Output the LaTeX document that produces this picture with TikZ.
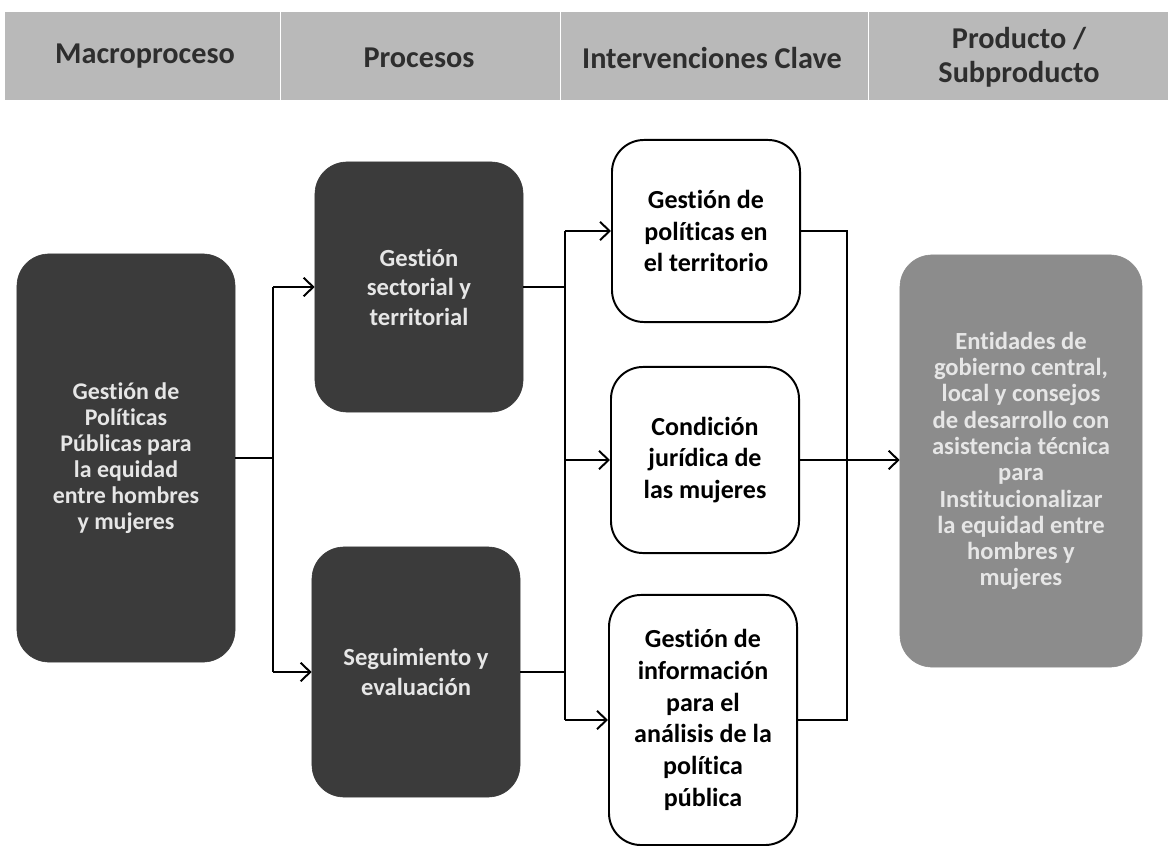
\documentclass[tikz,border=0pt]{standalone}
\usepackage{fontspec}
\setmainfont{Carlito}[Ligatures=NoCommon]
\usetikzlibrary{arrows.meta}

\definecolor{bandgray}{HTML}{B9B9B9}
\definecolor{headink}{HTML}{2E2E2E}
\definecolor{darkfill}{HTML}{3B3B3B}
\definecolor{prodfill}{HTML}{8C8C8C}
\definecolor{paleink}{HTML}{E6E6E6}

\tikzset{
  headtxt/.style={font=\fontsize{21.5}{24}\selectfont\bfseries, text=headink, align=center},
  darkbox/.style={draw=darkfill, fill=darkfill, rounded corners=0.8cm, text=paleink,
    font=\fontsize{17.5}{21}\selectfont\bfseries, align=center, inner sep=2pt},
  whitebox/.style={draw=black, line width=1.4pt, fill=white, rounded corners=0.8cm,
    font=\fontsize{18.5}{22.5}\selectfont\bfseries, align=center, inner sep=2pt},
  prodbox/.style={draw=prodfill, fill=prodfill, rounded corners=0.8cm, text=paleink,
    font=\fontsize{17.5}{18.7}\selectfont\bfseries, align=center, inner sep=2pt},
  link/.style={line width=1.6pt},
  flecha/.style={line width=1.6pt, -{Straight Barb[length=2.4mm,width=4.6mm,line width=1.4pt]}}
}

\begin{document}
\begin{tikzpicture}[x=0.025cm,y=-0.025cm]
\useasboundingbox (0,0) rectangle (1168,846);

% header band
\fill[bandgray] (5,12) rectangle (1168,100);
\draw[white,line width=0.6pt] (280,12) -- (280,100);
\draw[white,line width=0.6pt] (560,12) -- (560,100);
\draw[white,line width=0.6pt] (868,12) -- (868,100);
\node[headtxt] (hmacro) at (145,56) {Macroproceso};
\node[headtxt] (hproc) at (419,58) {Procesos};
\node[headtxt] (hinter) at (712,58) {Intervenciones Clave};
\node[headtxt] (hprod) at (1019,57) {Producto /\\Subproducto};

% boxes
\node[darkbox, minimum width=5.45cm, minimum height=10.2cm,
  font=\fontsize{17}{18.4}\selectfont\bfseries] (macro) at (126,458)
  {Gestión de\\Políticas\\Públicas para\\la equidad\\entre hombres\\y mujeres};
\node[darkbox, minimum width=5.2cm, minimum height=6.25cm] (sect) at (419,287)
  {Gestión\\sectorial y\\territorial};
\node[darkbox, minimum width=5.2cm, minimum height=6.25cm] (segui) at (416,672)
  {Seguimiento y\\evaluación};
\node[whitebox, minimum width=4.7cm, minimum height=4.55cm] (terr) at (706,231)
  {Gestión de\\políticas en\\el territorio};
\node[whitebox, minimum width=4.7cm, minimum height=4.65cm] (jurid) at (705,460)
  {Condición\\jurídica de\\las mujeres};
\node[whitebox, minimum width=4.7cm, minimum height=6.25cm] (info) at (703,720)
  {Gestión de\\información\\para el\\análisis de la\\política\\pública};
\node[prodbox, minimum width=6.05cm, minimum height=10.3cm] (prod) at (1021,461)
  {Entidades de\\gobierno central,\\local y consejos\\de desarrollo con\\asistencia técnica\\para\\Institucionalizar\\la equidad entre\\hombres y\\mujeres};

% connectors
\coordinate (s1) at (273,0);
\coordinate (s2) at (565,0);
\coordinate (s3) at (847,0);
\draw[link] (macro.east) -- (macro.east -| s1);
\draw[link] (s1 |- sect.west) -- (s1 |- segui.west);
\draw[flecha] (s1 |- sect.west) -- (sect.west);
\draw[flecha] (s1 |- segui.west) -- (segui.west);

\draw[link] (sect.east) -- (sect.east -| s2);
\draw[link] (segui.east) -- (segui.east -| s2);
\draw[link] (s2 |- terr.west) -- (s2 |- info.west);
\draw[flecha] (s2 |- terr.west) -- (terr.west);
\draw[flecha] (s2 |- jurid.west) -- (jurid.west);
\draw[flecha] (s2 |- info.west) -- (info.west);

\draw[link] (terr.east) -- (terr.east -| s3) -- (s3 |- info.east) -- (info.east);
\draw[flecha] (jurid.east) -- (jurid.east -| prod.west);
\end{tikzpicture}
\end{document}
